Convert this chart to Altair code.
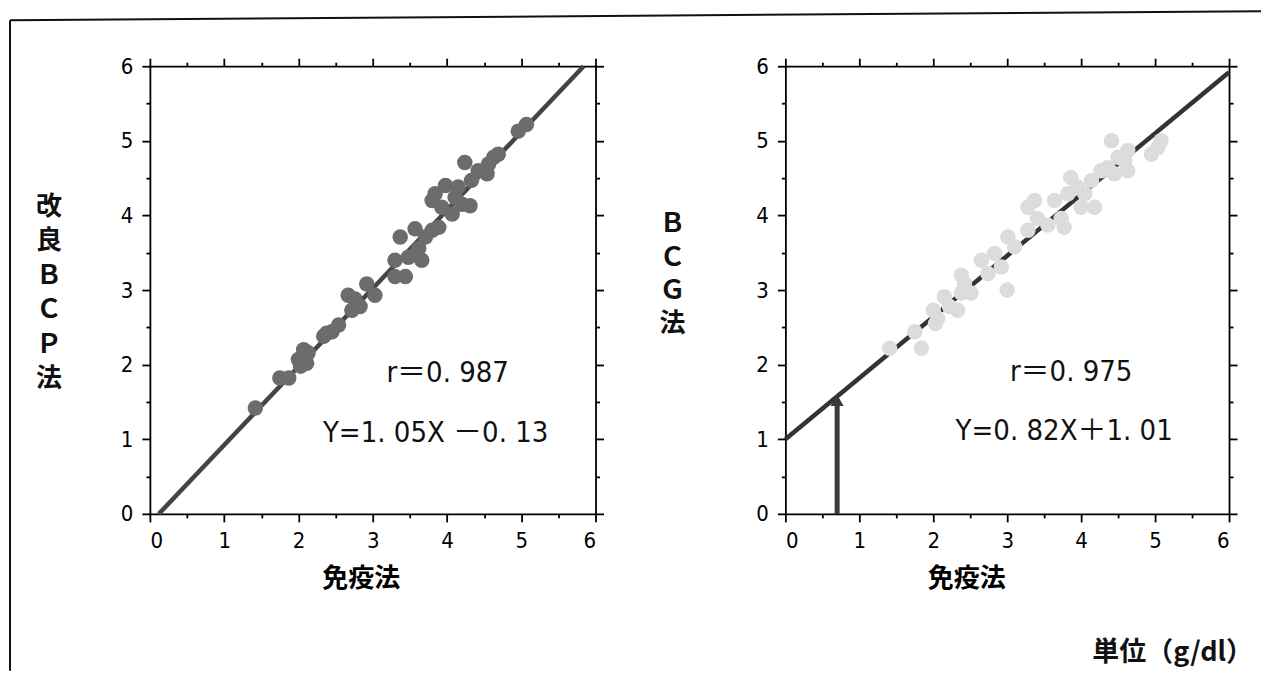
import altair as alt
import pandas as pd

# ---- data ----
left_x = [1.42, 1.75, 1.87, 2.00, 2.07, 2.13, 2.03, 2.11, 2.34, 2.45, 2.54, 2.38,
          2.67, 2.76, 2.92, 3.03, 2.72, 2.83, 3.30, 3.37, 3.44, 3.57, 3.62, 3.71,
          3.80, 3.89, 3.48, 3.66, 3.30, 3.84, 3.98, 4.11, 4.20, 4.31, 3.80, 4.07,
          3.93, 4.15, 4.24, 4.33, 4.42, 4.54, 4.63, 4.69, 4.56, 4.96, 5.07]
left_y = [1.42, 1.82, 1.82, 2.07, 2.20, 2.16, 1.98, 2.02, 2.38, 2.44, 2.53, 2.42,
          2.93, 2.88, 3.08, 2.93, 2.73, 2.78, 3.40, 3.71, 3.18, 3.82, 3.56, 3.71,
          3.80, 3.84, 3.44, 3.40, 3.18, 4.29, 4.40, 4.24, 4.15, 4.13, 4.20, 4.02,
          4.11, 4.38, 4.71, 4.47, 4.60, 4.56, 4.78, 4.82, 4.69, 5.13, 5.22]

right_x = [1.41, 1.75, 1.84, 2.00, 2.06, 2.15, 2.03, 2.33, 2.38, 2.22, 2.38, 2.42,
           2.51, 2.65, 2.74, 2.83, 3.00, 2.92, 3.01, 3.10, 3.28, 3.37, 3.28, 3.41,
           3.55, 3.64, 3.73, 3.82, 3.77, 3.86, 3.95, 4.05, 4.14, 4.18, 4.00, 4.27,
           4.36, 4.45, 4.59, 4.63, 4.50, 4.41, 4.63, 4.95, 5.08, 5.04]
right_y = [2.22, 2.44, 2.22, 2.73, 2.62, 2.91, 2.55, 2.73, 2.96, 2.78, 3.20, 3.09,
           2.96, 3.40, 3.22, 3.49, 3.00, 3.31, 3.71, 3.58, 4.11, 4.20, 3.80, 3.96,
           3.87, 4.20, 3.96, 4.29, 3.84, 4.51, 4.38, 4.29, 4.47, 4.11, 4.11, 4.60,
           4.64, 4.56, 4.73, 4.60, 4.78, 5.00, 4.87, 4.82, 5.00, 4.91]

left_line_x = [0.12, 5.84]
left_line_y = [0.0, 6.0]
right_line_x = [0.0, 6.0]
right_line_y = [1.0, 5.92]

arrow_x = [0.7]
arrow_y0 = [0.0]
arrow_y1 = [1.45]
arrow_head_y = [1.52]

tick_values = [0, 0.5, 1, 1.5, 2, 2.5, 3, 3.5, 4, 4.5, 5, 5.5, 6]

left_ytitle = "改\n良\nＢ\nＣ\nＰ\n法"
right_ytitle = "Ｂ\nＣ\nＧ\n法"
x_title = "免疫法"
left_r = "r＝0. 987"
left_eq = "Y=1. 05X －0. 13"
right_r = "r＝0. 975"
right_eq = "Y=0. 82X＋1. 01"
unit_text = "単位（g/dl）"

# ---- styling ----
LATIN = "Liberation Sans Narrow, DejaVu Sans Condensed, Noto Sans CJK JP, sans-serif"
CJK = "Noto Sans CJK JP"
major = "datum.value % 1 === 0"
tick_size = {"condition": {"test": major, "value": 8}, "value": 4}
label_expr = f"{major} ? format(datum.value, 'd') : ''"
SC = alt.Scale(domain=[0, 6], nice=False, zero=False)


def axis(orient, labels, title=None, title_x=None):
    kw = dict(orient=orient, values=tick_values, tickSize=tick_size, grid=False,
              domainColor="black", domainWidth=1.8, tickColor="black", tickWidth=1.8,
              labels=labels)
    if labels:
        kw.update(labelExpr=label_expr, labelFont=LATIN, labelFontSize=22,
                  labelColor="black", labelPadding=9)
    if title is not None:
        kw.update(title=title, titleFont=CJK, titleFontSize=26, titleFontWeight="bold",
                  titleColor="black", titlePadding=14)
        if title_x is not None:
            kw.update(titleX=title_x)
    else:
        kw.update(title=None)
    return alt.Axis(**kw)


def panel(px, py, lx, ly, pcolor, lcolor, width, ytitle, ytx, yty, ylh, r_txt, r_pos,
          eq_txt, eq_pos, title_x, arrow=False, extra=None):
    pts = pd.DataFrame({"x": px, "y": py})
    ln = pd.DataFrame({"x": lx, "y": ly})
    layers = []
    layers.append(alt.Chart(ln).mark_line(color=lcolor, strokeWidth=4.5).encode(
        x=alt.X("x:Q", scale=SC, axis=None), y=alt.Y("y:Q", scale=SC, axis=None)))
    if arrow:
        ar = pd.DataFrame({"x": arrow_x, "y0": arrow_y0, "y1": arrow_y1, "yh": arrow_head_y})
        layers.append(alt.Chart(ar).mark_rule(color="#3a3a3a", strokeWidth=5).encode(
            x=alt.X("x:Q", scale=SC, axis=None), y=alt.Y("y0:Q", scale=SC, axis=None),
            y2="y1:Q"))
        layers.append(alt.Chart(ar).mark_point(shape="triangle-up", filled=True, opacity=1,
                                               color="#3a3a3a", size=170).encode(
            x=alt.X("x:Q", scale=SC, axis=None), y=alt.Y("yh:Q", scale=SC, axis=None)))
    layers.append(alt.Chart(pts).mark_circle(color=pcolor, opacity=1, size=240).encode(
        x=alt.X("x:Q", scale=SC, axis=axis("bottom", True, x_title, title_x)),
        y=alt.Y("y:Q", scale=SC, axis=axis("left", True))))
    layers.append(alt.Chart(pts).mark_point(opacity=0).encode(
        x=alt.X("x:Q", scale=SC, axis=axis("top", False)),
        y=alt.Y("y:Q", scale=SC, axis=axis("right", False))))
    layers.append(alt.Chart(pd.DataFrame({"t": [ytitle]})).mark_text(
        font=CJK, fontSize=26, fontWeight="bold", color="#111", lineBreak="\n",
        lineHeight=ylh, align="center", baseline="middle").encode(
        text="t:N", x=alt.value(ytx), y=alt.value(yty)))
    layers.append(alt.Chart(pd.DataFrame({"t": [r_txt]})).mark_text(
        font=LATIN, fontSize=29, color="#111", align="center", baseline="middle").encode(
        text="t:N", x=alt.value(r_pos[0]), y=alt.value(r_pos[1])))
    layers.append(alt.Chart(pd.DataFrame({"t": [eq_txt]})).mark_text(
        font=LATIN, fontSize=29, color="#111", align="center", baseline="middle").encode(
        text="t:N", x=alt.value(eq_pos[0]), y=alt.value(eq_pos[1])))
    if extra:
        layers.extend(extra)
    return alt.layer(*layers).resolve_axis(x="independent", y="independent").properties(
        width=width, height=448)


border = [
    alt.Chart(pd.DataFrame({"a": [0]})).mark_rule(color="#111", strokeWidth=2).encode(
        x=alt.value(-140), y=alt.value(-46), x2=alt.value(1112), y2=alt.value(-55)),
    alt.Chart(pd.DataFrame({"a": [0]})).mark_rule(color="#111", strokeWidth=2).encode(
        x=alt.value(-140), y=alt.value(-46), y2=alt.value(605)),
]

unit = [alt.Chart(pd.DataFrame({"t": [unit_text]})).mark_text(
    font=CJK, fontSize=27, fontWeight="bold", color="#111", align="right",
    baseline="middle").encode(text="t:N", x=alt.value(468), y=alt.value(587))]

left = panel(left_x, left_y, left_line_x, left_line_y, "#6c6c6c", "#444444", 446,
             left_ytitle, -101, 141, 34.4, left_r, (298, 307), left_eq, (286, 367), 211,
             extra=border)
right = panel(right_x, right_y, right_line_x, right_line_y, "#dcdcdc", "#333333", 444,
              right_ytitle, -113, 158, 33.5, right_r, (286, 306), right_eq, (279, 365), 181,
              arrow=True, extra=unit)

chart = alt.hconcat(left, right, spacing=190, bounds="flush").properties(
    padding={"left": 0, "top": 1, "right": 0, "bottom": 0}
).configure_view(stroke=None).configure(background="white")

chart.save("out.html", embed_options={"renderer": "svg", "actions": False})
